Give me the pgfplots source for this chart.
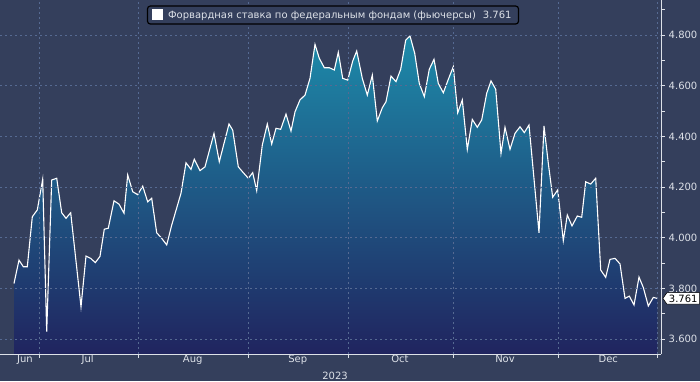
\documentclass[border=0pt]{standalone}
\usepackage{pgfplots}
\pgfplotsset{compat=1.18}
\usepackage{pgfplotstable}
\usepackage{fontspec}
\setmainfont{DejaVu Sans}
\usetikzlibrary{shapes.symbols}
\definecolor{bg}{HTML}{343F5C}
\definecolor{gridc}{HTML}{566A92}
\definecolor{areatop}{HTML}{1D8BAA}
\definecolor{areabot}{HTML}{20245F}
\definecolor{lbl}{HTML}{DDE1E8}

\pgfplotstableread{
x y
14 3.820
19 3.912
23.3 3.886
27.3 3.886
32.3 4.083
37.3 4.110
42.7 4.231
46.7 3.630
51.7 4.228
56.7 4.235
61.7 4.099
66 4.077
70.7 4.099
81 3.728
86 3.928
90.7 3.919
95.3 3.902
100 3.927
104.3 4.034
108.3 4.038
114 4.146
119 4.133
124 4.097
127.7 4.248
132.7 4.182
137.7 4.170
142.7 4.204
147.7 4.142
151.7 4.156
156.7 4.020
161.7 3.998
166.7 3.972
171.7 4.050
181 4.176
186 4.296
191 4.270
194.3 4.310
200 4.265
205 4.280
214 4.412
219.3 4.300
229 4.449
232.7 4.425
238.3 4.280
243.3 4.257
248.3 4.235
252.7 4.257
256.7 4.186
262.3 4.366
267.3 4.449
271.7 4.370
276 4.432
280.7 4.428
286 4.488
291 4.421
295 4.497
300 4.544
305 4.563
310 4.629
315 4.763
319.3 4.708
324.3 4.671
329.3 4.671
334.3 4.662
338.3 4.732
342.7 4.629
347.7 4.622
352.7 4.697
356.7 4.737
362.3 4.629
367.3 4.563
372.3 4.642
377.3 4.461
382.3 4.513
386 4.537
391 4.638
396 4.616
400.7 4.665
405.7 4.780
410 4.796
414.7 4.728
419.3 4.609
424.3 4.557
429.3 4.665
434 4.704
438.3 4.609
443.3 4.572
448.3 4.625
453.3 4.675
457.7 4.493
462.3 4.544
467.3 4.349
472.3 4.467
477.3 4.436
481.7 4.465
486.7 4.570
491 4.619
495.7 4.586
501 4.333
505 4.436
510 4.349
515 4.412
520 4.438
524.3 4.415
529 4.445
539 4.020
544 4.441
548.3 4.294
552.7 4.160
557.7 4.189
563.3 3.989
567.3 4.090
572 4.047
577.3 4.086
581.7 4.081
585.7 4.221
590.7 4.212
595.7 4.235
600.7 3.873
605.7 3.844
610 3.915
615 3.919
620 3.897
625 3.761
629.3 3.770
634 3.735
639 3.845
643.3 3.804
648.3 3.731
653.3 3.765
657.3 3.761
}\ratedata

\begin{document}
\begin{tikzpicture}
\fill[bg] (0,0) rectangle (700pt,381pt);
\useasboundingbox (0,0) rectangle (700pt,381pt);
\begin{axis}[
  at={(0pt,27pt)}, anchor=south west,
  scale only axis, width=661pt, height=354pt,
  xmin=0, xmax=661, ymin=3.5416, ymax=4.938,
  axis x line*=bottom, axis y line*=right,
  axis line style={lbl, line width=0.9pt},
  clip=false, axis on top,
  tick align=outside,
  major tick length=3.5pt, minor tick length=4pt,
  tick style={lbl, line width=0.9pt},
  xtick={39,138,248,348,453,558,657},
  xticklabels={},
  extra x ticks={25,87.7,192.7,297.7,400,505,608.3},
  extra x tick labels={Jun,Jul,Aug,Sep,Oct,Nov,Dec},
  extra x tick style={major tick length=0pt, grid=none,
     xticklabel style={anchor=base, yshift=-8.5pt, inner sep=0pt}},
  ytick={3.6,3.8,4.0,4.2,4.4,4.6,4.8},
  minor ytick={3.7,3.9,4.1,4.3,4.5,4.7,4.9},
  xmajorgrids, ymajorgrids,
  major grid style={gridc, dash pattern=on 2pt off 3pt, line width=0.8pt},
  tick label style={font=\fontsize{10}{12}\selectfont, text=lbl},
  yticklabel style={anchor=west, inner sep=0pt, xshift=4pt,
     /pgf/number format/.cd, fixed, fixed zerofill, precision=3, assume math mode=true},
  legend style={at={(0.5038,0.9576)}, anchor=center, fill=bg, draw=black,
     line width=1.2pt, rounded corners=3pt, text=lbl,
     font=\fontsize{10}{12}\selectfont, inner xsep=5pt, inner ysep=2.5pt},
  legend image code/.code={\fill[white, sharp corners] (0pt,-4.5pt) rectangle (9.5pt,5pt);},
]
\addplot[draw=none, top color=areatop, bottom color=areabot, forget plot]
  table[x=x,y=y]{\ratedata} \closedcycle;
\addplot[white, line width=1.1pt] table[x=x,y=y]{\ratedata};
\addlegendentry{\hspace{3pt}Форвардная ставка по федеральным фондам (фьючерсы)\hspace{7pt}3.761}
\pgfplotsinvokeforeach{3.6,3.8,4.0,4.2,4.4,4.6,4.8}{
  \fill[lbl] (axis cs:661,#1) ++(0,2.6pt) -- ++(7.5pt,-2.6pt) -- ++(-7.5pt,-2.6pt) -- cycle;
}
\node[signal, signal to=west, signal pointer angle=110, fill=white, draw=black,
  line width=0.6pt, inner xsep=2pt, inner ysep=2pt, anchor=west,
  font=\fontsize{10}{12}\selectfont, text=black] at (axis cs:662.5,3.761) {3.761};
\draw[gray!80, line width=0.8pt] (axis cs:657.5,3.5416) ++(0,-14pt) -- ++(0,-14pt);
\node[anchor=base east, yshift=-25pt, inner sep=0pt, text=lbl,
  font=\fontsize{10}{12}\selectfont] at (axis cs:348,3.5416) {2023};
\end{axis}
\end{tikzpicture}
\end{document}
